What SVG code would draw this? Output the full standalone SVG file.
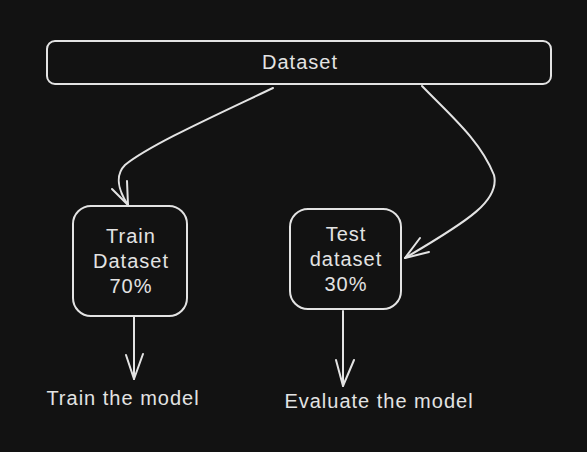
<svg xmlns="http://www.w3.org/2000/svg" width="587" height="452" viewBox="0 0 587 452">
<style>
.box{fill:#121212;stroke:#e3e3e3;stroke-width:2}
.ln{fill:none;stroke:#e3e3e3;stroke-width:2;stroke-linecap:round;stroke-linejoin:round}
text{font-family:"Liberation Sans","DejaVu Sans",sans-serif;font-size:20px;letter-spacing:1px;fill:#e3e3e3;text-anchor:middle}
</style>
<rect width="587" height="452" fill="#121212"/>
<g id="dataset">
<rect class="box" x="47" y="41" width="504" height="43" rx="8"/>
<text x="300" y="69">Dataset</text>
</g>
<g id="train">
<rect class="box" x="73" y="206" width="114" height="110" rx="18"/>
<text x="131" y="243">Train</text>
<text x="131" y="268">Dataset</text>
<text x="131" y="293">70%</text>
</g>
<g id="test">
<rect class="box" x="290" y="209" width="111" height="100" rx="18"/>
<text x="346" y="241">Test</text>
<text x="346" y="266">dataset</text>
<text x="346" y="291">30%</text>
</g>
<g id="train-model">
<text x="123" y="405">Train the model</text>
</g>
<g id="evaluate-model">
<text x="379" y="408">Evaluate the model</text>
</g>
<g id="connectors">
<path class="ln" d="M273 88 C210 118 150 145 125 165 C115 175 118 190 128 205"/>
<path class="ln" d="M112 189 L128 205 L127 181"/>
<path class="ln" d="M422 86 C450 115 480 140 494 175 C500 200 470 220 405 258"/>
<path class="ln" d="M420 238 L405 258 L429 252"/>
<path class="ln" d="M134 317 L134 379"/>
<path class="ln" d="M126 355 L134 379 L143 354"/>
<path class="ln" d="M343 311 L343 386"/>
<path class="ln" d="M336 360 L343 386 L354 360"/>
</g>
</svg>
